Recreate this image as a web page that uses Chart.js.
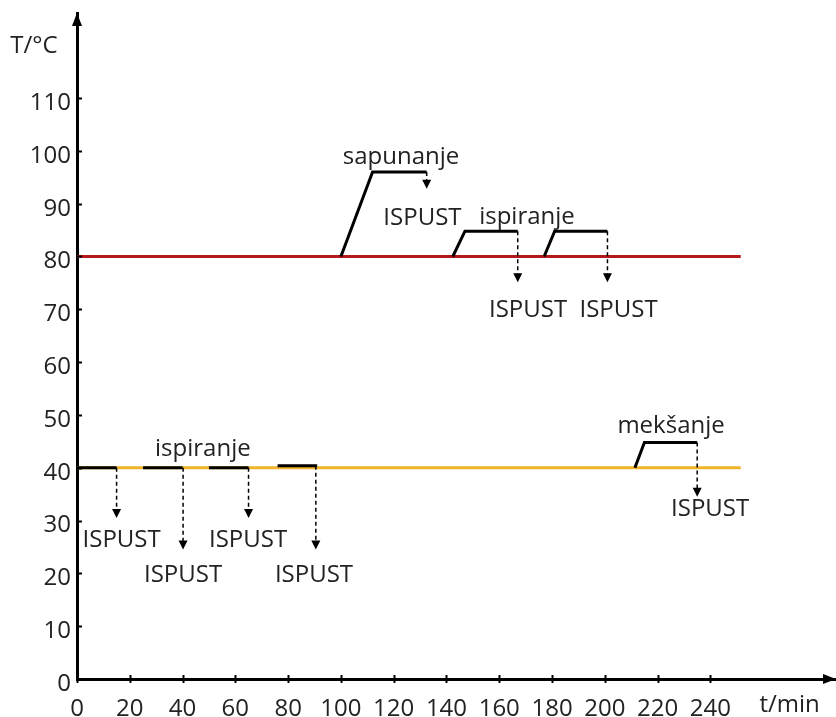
<!DOCTYPE html>
<html>
<head>
<meta charset="utf-8">
<script src="https://cdn.jsdelivr.net/npm/chart.js@4/dist/chart.umd.min.js"></script>
<style>
  body { margin: 0; background: #fff; }
  canvas { display: block; }
</style>
</head>
<body>
<canvas id="chart" width="836" height="717"></canvas>
<script>
// axis ticks
const timeTicks = [0, 20, 40, 60, 80, 100, 120, 140, 160, 180, 200, 220, 240];
const tempTicks = [0, 10, 20, 30, 40, 50, 60, 70, 80, 90, 100, 110];

// base temperature lines
const hotBaseTemp = 80;
const coolBaseTemp = 40;
const baseLineEnd = 251.5;

// rinse steps sitting on the 40 °C line
const rinseStart = [0, 25, 50, 76];
const rinseEnd = [15, 40, 65, 91];
const rinseTemp = [40, 40, 40, 40.4];

// heated stages (ramp up, hold)
const stageStart = [100, 142.4, 177, 211.4];
const stageRampTop = [112, 147, 181, 215];
const stageEnd = [132.5, 167, 201, 235];
const stageBase = [80, 80, 80, 40];
const stageTemp = [96, 84.8, 84.8, 44.8];

// drains (ISPUST arrows)
const drainTime = [15, 40.2, 65, 90.5, 132.5, 167, 201, 235];
const drainFrom = [40, 40, 40, 40.4, 96, 84.8, 84.8, 44.8];
const drainTo = [30.5, 24.5, 30.5, 24.5, 92.8, 75.1, 75.1, 34.5];
const drainLabelTime = [16.9, 40.2, 64.8, 89.8, 130.9, 170.9, 205.2, 239.9];
const drainLabelTemp = [25, 18.4, 25, 18.4, 86, 68.5, 68.5, 30.9];

// stage names
const stageLabels = ["sapunanje", "ispiranje", "ispiranje", "mekšanje"];
const stageLabelTime = [122.8, 170.5, 47.7, 225.1];
const stageLabelTemp = [97.5, 86.1, 42.2, 46.6];

const FONT = "'Open Sans', sans-serif";
const TEXT = "#222";

function gapped(list) {
  const out = [];
  list.forEach((pts, i) => {
    if (i > 0) out.push({ x: pts[0].x, y: null });
    pts.forEach(p => out.push(p));
  });
  return out;
}

const rinseData = gapped(rinseStart.map((s, i) => [
  { x: s, y: rinseTemp[i] }, { x: rinseEnd[i], y: rinseTemp[i] }
]));
const stageData = gapped(stageStart.map((s, i) => [
  { x: s, y: stageBase[i] },
  { x: stageRampTop[i], y: stageTemp[i] },
  { x: stageEnd[i], y: stageTemp[i] }
]));
const drainData = gapped(drainTime.map((t, i) => [
  { x: t, y: drainFrom[i] }, { x: t, y: drainTo[i] + 1.2 }
]));

const extras = {
  id: "extras",
  afterDatasetsDraw(chart) {
    const { ctx, chartArea: a, scales: { x, y } } = chart;
    ctx.save();
    ctx.fillStyle = "#000";
    ctx.strokeStyle = "#000";

    // tick marks
    ctx.lineWidth = 2;
    tempTicks.forEach(v => {
      const py = Math.round(y.getPixelForValue(v)) + 0.5;
      ctx.beginPath(); ctx.moveTo(a.left, py); ctx.lineTo(a.left + 5, py); ctx.stroke();
    });
    timeTicks.forEach(v => {
      const px = Math.round(x.getPixelForValue(v)) + 0.5;
      ctx.beginPath(); ctx.moveTo(px, a.bottom - 4); ctx.lineTo(px, a.bottom + 4); ctx.stroke();
    });

    // axis arrowheads
    ctx.beginPath();
    ctx.moveTo(a.left, a.top); ctx.lineTo(a.left - 5, a.top + 13); ctx.lineTo(a.left + 5, a.top + 13);
    ctx.closePath(); ctx.fill();
    ctx.beginPath();
    ctx.moveTo(a.right, a.bottom); ctx.lineTo(a.right - 13, a.bottom - 5); ctx.lineTo(a.right - 13, a.bottom + 5);
    ctx.closePath(); ctx.fill();

    // drain arrowheads
    drainTime.forEach((t, i) => {
      const px = x.getPixelForValue(t);
      const py = y.getPixelForValue(drainTo[i]);
      ctx.beginPath();
      ctx.moveTo(px, py); ctx.lineTo(px - 4.5, py - 9); ctx.lineTo(px + 4.5, py - 9);
      ctx.closePath(); ctx.fill();
    });

    // labels
    ctx.fillStyle = TEXT;
    ctx.font = "24px " + FONT;
    ctx.textAlign = "center";
    ctx.textBaseline = "alphabetic";
    drainTime.forEach((t, i) => {
      ctx.fillText("ISPUST", x.getPixelForValue(drainLabelTime[i]), y.getPixelForValue(drainLabelTemp[i]));
    });
    stageLabels.forEach((s, i) => {
      ctx.fillText(s, x.getPixelForValue(stageLabelTime[i]), y.getPixelForValue(stageLabelTemp[i]));
    });

    // axis titles
    ctx.fillText("T/°C", a.left - 43, a.top + 40);
    ctx.fillText("t/min", x.getPixelForValue(270), a.bottom + 33);
    ctx.restore();
  }
};

new Chart(document.getElementById("chart"), {
  type: "scatter",
  data: {
    datasets: [
      {
        data: drainData, showLine: true, spanGaps: false,
        borderColor: "#000", borderWidth: 1.5, borderDash: [4, 3], pointRadius: 0
      },
      {
        data: stageData, showLine: true, spanGaps: false,
        borderColor: "#000", borderWidth: 3, pointRadius: 0
      },
      {
        data: rinseData, showLine: true, spanGaps: false,
        borderColor: "#000", borderWidth: 3, pointRadius: 0
      },
      {
        data: [{ x: 0, y: hotBaseTemp }, { x: baseLineEnd, y: hotBaseTemp }],
        showLine: true, borderColor: "#b3191b", borderWidth: 3, pointRadius: 0
      },
      {
        data: [{ x: 0, y: coolBaseTemp }, { x: baseLineEnd, y: coolBaseTemp }],
        showLine: true, borderColor: "#f0b32a", borderWidth: 3, pointRadius: 0
      }
    ]
  },
  options: {
    responsive: false,
    animation: false,
    layout: { padding: { top: 13, right: 0, bottom: 0, left: 0 } },
    plugins: { legend: { display: false }, tooltip: { enabled: false } },
    scales: {
      x: {
        type: "linear", min: 0, max: 287.6,
        afterBuildTicks: s => { s.ticks = timeTicks.map(v => ({ value: v })); },
        afterFit: s => { s.height = 38; s.paddingLeft = 0; s.paddingRight = 0; },
        grid: { display: false, drawTicks: false },
        border: { color: "#000", width: 3 },
        ticks: { color: TEXT, font: { family: FONT, size: 24 }, padding: 16, maxRotation: 0, autoSkip: false }
      },
      y: {
        type: "linear", min: 0, max: 126.1,
        afterBuildTicks: s => { s.ticks = tempTicks.map(v => ({ value: v })); },
        afterFit: s => { s.width = 77; s.paddingTop = 0; s.paddingBottom = 0; },
        grid: { display: false, drawTicks: false },
        border: { color: "#000", width: 3 },
        ticks: { color: TEXT, font: { family: FONT, size: 24 }, padding: 6, labelOffset: 5, autoSkip: false }
      }
    }
  },
  plugins: [extras]
});
</script>
</body>
</html>
